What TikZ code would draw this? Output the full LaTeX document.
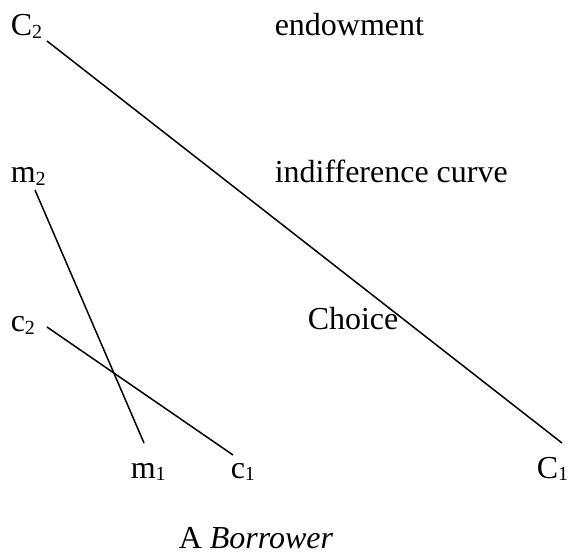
\documentclass[tikz,border=0pt]{standalone}
\usepackage{fontspec}
\setmainfont{Liberation Serif}
\usetikzlibrary{calc}
\newcommand{\lowidx}[1]{\raisebox{-2.5pt}{\fontsize{20}{20}\selectfont#1}}
\tikzset{lab/.style={inner sep=0pt,anchor=base west,font=\fontsize{32}{38}\selectfont}}
\begin{document}
\begin{tikzpicture}[x=1pt,y=-1pt,line width=1.5pt]
\useasboundingbox(0,0)rectangle(568,553);
\node[lab](Ctwo)at(10,36){C\lowidx{2}};\node[lab](endow)at(274,36){endowment};
\node[lab](mtwo)at(10,183){m\lowidx{2}};\node[lab](indiff)at(274,183){indifference curve};
\node[lab](ctwo)at(10,332){c\lowidx{2}};\node[lab](choice)at(307,330){Choice};
\node[lab](mone)at(130,478){m\lowidx{1}};\node[lab](cone)at(230,478){c\lowidx{1}};\node[lab](Cone)at(536,478){C\lowidx{1}};
\node[lab](title)at(178,548){A \textit{Borrower}};
\coordinate(Btop)at(47,41);\coordinate(Bbot)at(562,443);
\coordinate(Mtop)at(35,190);\coordinate(Mbot)at(144,443);
\coordinate(Ltop)at(47,327);\coordinate(Lbot)at(233,455);
\draw(Btop)--(Bbot);\draw(Mtop)--(Mbot);\draw(Ltop)--(Lbot);
\end{tikzpicture}
\end{document}
